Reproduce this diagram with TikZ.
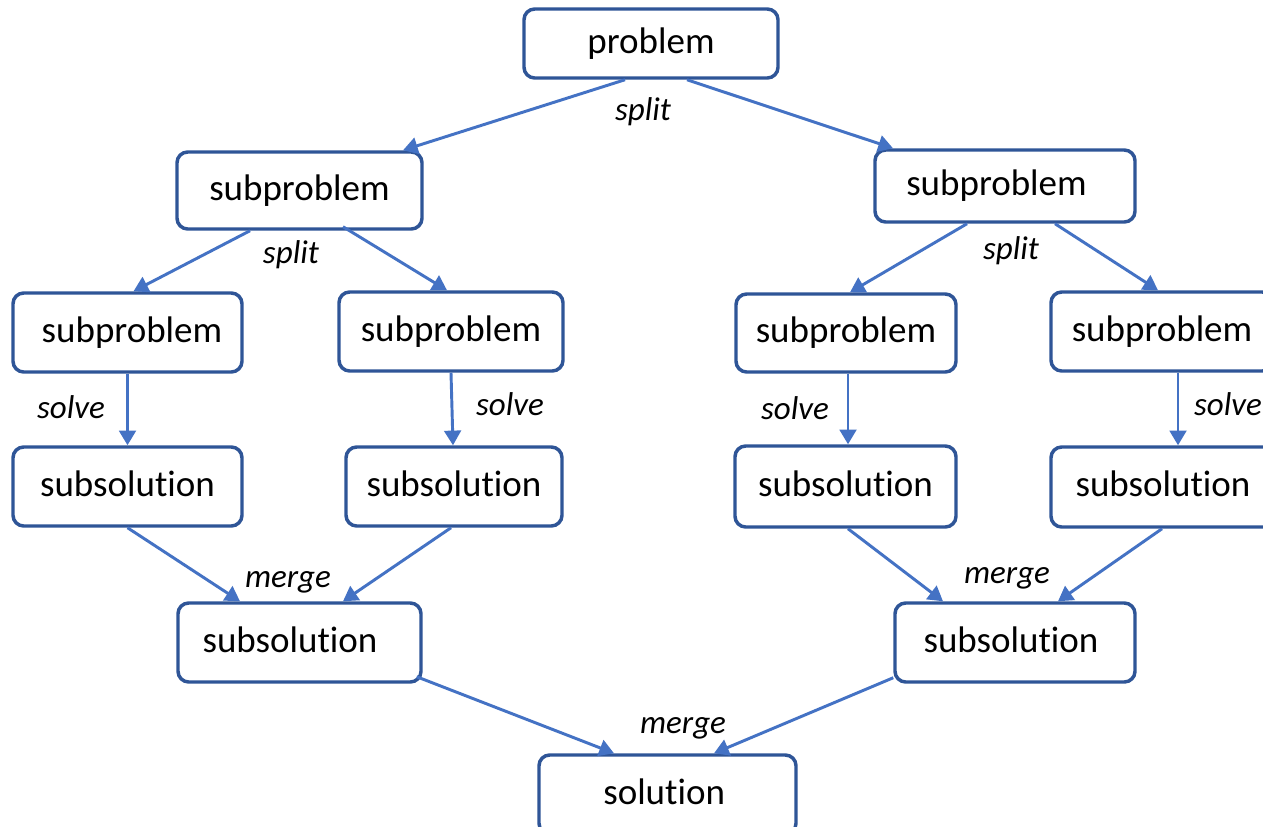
\documentclass[tikz,border=0pt]{standalone}
\usepackage{fontspec}
\setmainfont{Carlito}[Ligatures=NoCommon]
\usetikzlibrary{arrows.meta,calc}
\definecolor{boxc}{HTML}{2F5597}
\definecolor{arrc}{HTML}{4472C4}
\tikzset{
  box/.style={draw=boxc, line width=2.6pt, rounded corners=8pt, fill=white,
    inner sep=0pt, text height=19.4pt, text depth=5pt,
    font=\fontsize{27.75}{33}\selectfont},
  conn/.style={draw=arrc, line width=2.2pt, -{Triangle[width=12.5pt,length=11pt]}},
  lbl/.style={anchor=base, inner sep=0pt, font=\fontsize{24.75}{30}\selectfont\itshape}
}
\begin{document}
\begin{tikzpicture}[x=0.75pt,y=-0.75pt]
\clip (0,0) rectangle (1263,826);
\fill[white] (0,0) rectangle (1263,826);
% boxes
\node[box, minimum width=190.5pt, minimum height=51.75pt] (prob) at (651,43.5) {problem};
\node[box, minimum width=183.75pt, minimum height=57.75pt] (sL) at (299.5,190.5) {subproblem};
\node[box, minimum width=195pt, minimum height=54pt] (sR) at (1005,186) {\hspace*{-12.75pt}subproblem};
\node[box, minimum width=171.75pt, minimum height=59.25pt] (sLL) at (127.5,332.5) {\hspace*{6.75pt}subproblem};
\node[box, minimum width=168pt, minimum height=59.25pt] (sLR) at (451,331.5) {subproblem};
\node[box, minimum width=165pt, minimum height=58.5pt] (sRL) at (846,333) {subproblem};
\node[box, minimum width=166.5pt, minimum height=59.25pt] (sRR) at (1162,331.5) {subproblem};
\node[box, minimum width=171.75pt, minimum height=59.25pt] (uLL) at (127.5,486.5) {subsolution};
\node[box, minimum width=162pt, minimum height=59.25pt] (uLR) at (454,486.5) {subsolution};
\node[box, minimum width=165.75pt, minimum height=60.75pt] (uRL) at (845.5,486.5) {subsolution};
\node[box, minimum width=168pt, minimum height=60pt] (uRR) at (1163,487) {subsolution};
\node[box, minimum width=182.25pt, minimum height=59.25pt] (uL2) at (299.5,642.5) {\hspace*{-14.25pt}subsolution};
\node[box, minimum width=180pt, minimum height=59.25pt] (uR2) at (1015,642.5) {\hspace*{-6pt}subsolution};
\node[box, minimum width=192.75pt, minimum height=59.25pt] (sol) at (667.5,794.5) {\hspace*{-5pt}solution};
% connectors
\draw[conn] ($(prob.south)+(-26,0)$) -- ($(sL.north)+(103.5,0)$);
\draw[conn] ($(prob.south)+(36,0)$) -- ($(sR.north)+(-112,0)$);
\draw[conn] ($(sL.south)+(-49.5,0)$) -- ($(sLL.north)+(6,0)$);
\draw[conn] ($(sL.south)+(43.5,-4)$) -- ($(sLR.north)+(-4,0)$);
\draw[conn] ($(sR.south)+(-38,0)$) -- ($(sRL.north)+(4,0)$);
\draw[conn] ($(sR.south)+(50,0)$) -- ($(sRR.north)+(-4,0)$);
\draw[conn] (sLL.south) -- (uLL.north);
\draw[conn] (sLR.south) -- ($(uLR.north)+(-1,0)$);
\draw[conn] ($(sRL.south)+(2,0)$) -- ($(uRL.north)+(2.5,0)$);
\draw[conn] ($(sRR.south)+(16,0)$) -- ($(uRR.north)+(15,0)$);
\draw[conn] (uLL.south) -- ($(uL2.north)+(-59.5,0)$);
\draw[conn] ($(uLR.south)+(-3,0)$) -- ($(uL2.north)+(43.5,0)$);
\draw[conn] ($(uRL.south)+(2.5,0)$) -- ($(uR2.north)+(-72,0)$);
\draw[conn] ($(uRR.south)+(-1,0)$) -- ($(uR2.north)+(43,0)$);
\draw[conn] ($(uL2.south east)+(-6,-7)$) -- ($(sol.north)+(-53.5,0)$);
\draw[conn] ($(uR2.south west)+(0,-6)$) -- ($(sol.north)+(46.5,0)$);
% labels
\node[lbl] (l1) at (643,120) {split};
\node[lbl] (l2) at (291,263) {split};
\node[lbl] (l3) at (1011,259) {split};
\node[lbl] (l4) at (71,418) {solve};
\node[lbl] (l5) at (510,415) {solve};
\node[lbl] (l6) at (795,419) {solve};
\node[lbl] (l7) at (1228,415) {solve};
\node[lbl] (l8) at (288,587) {merge};
\node[lbl] (l9) at (1007,583) {merge};
\node[lbl] (l10) at (683,733) {merge};
\end{tikzpicture}
\end{document}
